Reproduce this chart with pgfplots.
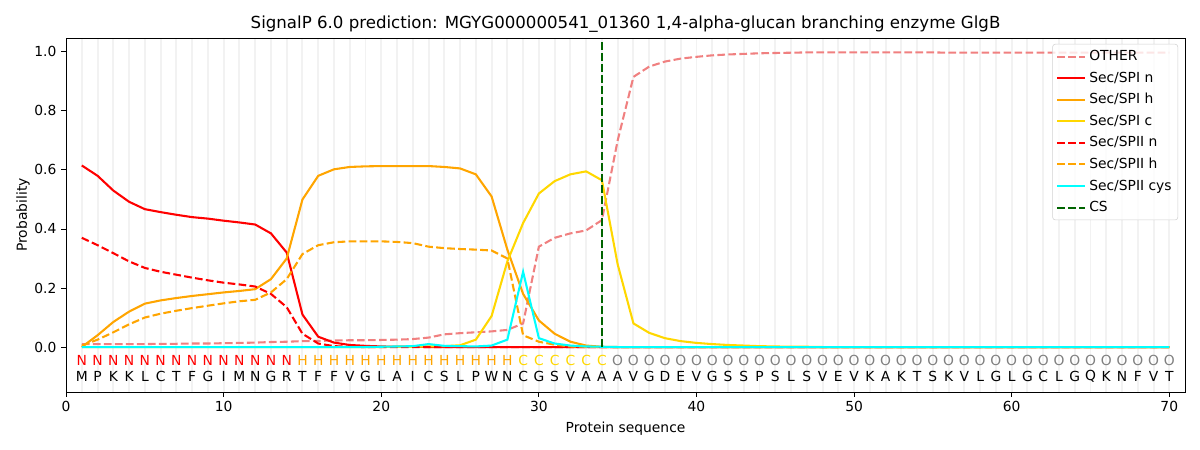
\documentclass[border=0pt]{standalone}
\usepackage{pgfplots}
\pgfplotsset{compat=1.18}
\usepackage{pgfplotstable}
\usepackage{fontspec}
\setmainfont{DejaVu Sans}
\definecolor{cother}{HTML}{F08080}
\definecolor{corange}{HTML}{FFA500}
\definecolor{cgold}{HTML}{FFD700}
\definecolor{ccyan}{HTML}{00FFFF}
\definecolor{cgreen}{HTML}{006400}
\definecolor{cgrid}{HTML}{F2F2F2}
\pgfplotstableread{
pos other spin spih spic spiin spiih cys
1 0.010 0.615 0.000 0.000 0.370 0.005 0.000
2 0.010 0.580 0.040 0.000 0.345 0.025 0.000
3 0.010 0.530 0.085 0.000 0.318 0.050 0.000
4 0.010 0.492 0.120 0.000 0.290 0.077 0.000
5 0.010 0.467 0.147 0.000 0.268 0.100 0.000
6 0.011 0.457 0.158 0.000 0.255 0.113 0.000
7 0.011 0.448 0.166 0.000 0.245 0.123 0.000
8 0.012 0.440 0.173 0.000 0.235 0.132 0.000
9 0.012 0.435 0.179 0.000 0.226 0.140 0.000
10 0.013 0.428 0.185 0.000 0.218 0.148 0.000
11 0.014 0.422 0.190 0.000 0.212 0.155 0.000
12 0.015 0.415 0.196 0.000 0.205 0.160 0.000
13 0.017 0.385 0.230 0.000 0.180 0.185 0.000
14 0.018 0.320 0.300 0.000 0.135 0.230 0.000
15 0.020 0.110 0.500 0.000 0.045 0.315 0.000
16 0.021 0.035 0.580 0.000 0.012 0.345 0.000
17 0.022 0.015 0.602 0.000 0.003 0.355 0.000
18 0.023 0.007 0.610 0.000 0.001 0.358 0.000
19 0.023 0.004 0.612 0.000 0.000 0.358 0.000
20 0.024 0.002 0.613 0.000 0.000 0.358 0.001
21 0.025 0.001 0.613 0.001 0.000 0.356 0.002
22 0.027 0.001 0.613 0.001 0.000 0.352 0.003
23 0.032 0.000 0.613 0.002 0.000 0.340 0.010
24 0.043 0.000 0.610 0.003 0.000 0.335 0.004
25 0.047 0.000 0.605 0.006 0.000 0.332 0.003
26 0.050 0.000 0.585 0.025 0.000 0.330 0.002
27 0.053 0.000 0.510 0.105 0.000 0.327 0.005
28 0.058 0.000 0.330 0.290 0.000 0.300 0.025
29 0.080 0.000 0.180 0.420 0.000 0.040 0.255
30 0.340 0.000 0.090 0.520 0.000 0.018 0.030
31 0.370 0.000 0.045 0.562 0.000 0.008 0.012
32 0.385 0.000 0.018 0.585 0.000 0.002 0.005
33 0.395 0.000 0.005 0.595 0.000 0.001 0.002
34 0.430 0.000 0.001 0.565 0.000 0.000 0.001
35 0.700 0.000 0.000 0.280 0.000 0.000 0.000
36 0.915 0.000 0.000 0.080 0.000 0.000 0.000
37 0.950 0.000 0.000 0.048 0.000 0.000 0.000
38 0.967 0.000 0.000 0.030 0.000 0.000 0.000
39 0.977 0.000 0.000 0.020 0.000 0.000 0.000
40 0.983 0.000 0.000 0.014 0.000 0.000 0.000
41 0.988 0.000 0.000 0.010 0.000 0.000 0.000
42 0.991 0.000 0.000 0.007 0.000 0.000 0.000
43 0.993 0.000 0.000 0.005 0.000 0.000 0.000
44 0.995 0.000 0.000 0.003 0.000 0.000 0.000
45 0.996 0.000 0.000 0.002 0.000 0.000 0.000
46 0.997 0.000 0.000 0.001 0.000 0.000 0.000
47 0.998 0.000 0.000 0.001 0.000 0.000 0.000
48 0.998 0.000 0.000 0.000 0.000 0.000 0.000
49 0.998 0.000 0.000 0.000 0.000 0.000 0.000
50 0.998 0.000 0.000 0.000 0.000 0.000 0.000
51 0.998 0.000 0.000 0.000 0.000 0.000 0.000
52 0.998 0.000 0.000 0.000 0.000 0.000 0.000
53 0.998 0.000 0.000 0.000 0.000 0.000 0.000
54 0.998 0.000 0.000 0.000 0.000 0.000 0.000
55 0.998 0.000 0.000 0.000 0.000 0.000 0.000
56 0.997 0.000 0.000 0.000 0.000 0.000 0.000
57 0.997 0.000 0.000 0.000 0.000 0.000 0.000
58 0.997 0.000 0.000 0.000 0.000 0.000 0.000
59 0.997 0.000 0.000 0.000 0.000 0.000 0.000
60 0.997 0.000 0.000 0.000 0.000 0.000 0.000
61 0.997 0.000 0.000 0.000 0.000 0.000 0.000
62 0.997 0.000 0.000 0.000 0.000 0.000 0.000
63 0.997 0.000 0.000 0.000 0.000 0.000 0.000
64 0.997 0.000 0.000 0.000 0.000 0.000 0.000
65 0.997 0.000 0.000 0.000 0.000 0.000 0.000
66 0.997 0.000 0.000 0.000 0.000 0.000 0.000
67 0.997 0.000 0.000 0.000 0.000 0.000 0.000
68 0.997 0.000 0.000 0.000 0.000 0.000 0.000
69 0.997 0.000 0.000 0.000 0.000 0.000 0.000
70 0.997 0.000 0.000 0.000 0.000 0.000 0.000
}\datatable
\begin{document}
\begin{tikzpicture}
\begin{axis}[
  scale only axis,
  width=808pt, height=255.6pt,
  xmin=0, xmax=71, ymin=-0.152, ymax=1.047,
  clip=false,
  font=\fontsize{10}{12}\selectfont,
  /pgf/number format/assume math mode=true,
  xtick={0,10,...,70},
  ytick={0,0.2,...,1.0},
  yticklabel style={/pgf/number format/.cd, fixed, fixed zerofill, precision=1},
  tick align=outside,
  major tick length=3.5pt,
  tick style={black, line width=0.6pt},
  xtick pos=bottom, ytick pos=left,
  extra x ticks={1,2,...,70},
  extra x tick labels={},
  extra x tick style={grid=major, major grid style={cgrid, line width=1.4pt}, major tick length=0pt},
  axis line style={line width=0.6pt},
  title={SignalP 6.0 prediction: MGYG000000541\_01360 1,4-alpha-glucan branching enzyme GlgB},
  title style={font=\fontsize{12}{14}\selectfont, yshift=-5.3pt},
  xlabel={Protein sequence}, ylabel={Probability},
  xlabel style={yshift=3.6pt},
  ylabel style={yshift=-3.6pt},
  legend cell align=left,
  legend style={at={(1,1)}, anchor=north east, xshift=-5pt, yshift=-4.3pt,
    draw=gray!35, rounded corners=2pt, fill=white, fill opacity=0.8, text opacity=1,
    font=\fontsize{10}{12}\selectfont, row sep=2.6pt, inner sep=2.5pt},
  legend image code/.code={\draw[#1] (0cm,0cm) -- (0.72cm,0cm);},
  every axis plot/.append style={line width=1.5pt},
  nodes near coords style={anchor=center, font=\fontsize{10}{12}\selectfont},
]
\addplot[cother, dash pattern=on 5.55pt off 2.4pt] table[x=pos,y=other] {\datatable};
\addlegendentry{OTHER}
\addplot[red] table[x=pos,y=spin] {\datatable};
\addlegendentry{Sec/SPI n}
\addplot[corange] table[x=pos,y=spih] {\datatable};
\addlegendentry{Sec/SPI h}
\addplot[cgold] table[x=pos,y=spic] {\datatable};
\addlegendentry{Sec/SPI c}
\addplot[red, dash pattern=on 5.55pt off 2.4pt] table[x=pos,y=spiin] {\datatable};
\addlegendentry{Sec/SPII n}
\addplot[corange, dash pattern=on 5.55pt off 2.4pt] table[x=pos,y=spiih] {\datatable};
\addlegendentry{Sec/SPII h}
\addplot[ccyan] table[x=pos,y=cys] {\datatable};
\addlegendentry{Sec/SPII cys}
\addplot[cgreen, dash pattern=on 5.55pt off 2.4pt] coordinates {(34,0) (34,1.047)};
\addlegendentry{CS}
% region labels
\addplot[forget plot, draw=none, mark=none, nodes near coords, point meta=explicit symbolic,
  nodes near coords style={text=red}] coordinates {
(1,-0.047)[N] (2,-0.047)[N] (3,-0.047)[N] (4,-0.047)[N] (5,-0.047)[N] (6,-0.047)[N] (7,-0.047)[N]
(8,-0.047)[N] (9,-0.047)[N] (10,-0.047)[N] (11,-0.047)[N] (12,-0.047)[N] (13,-0.047)[N] (14,-0.047)[N]};
\addplot[forget plot, draw=none, mark=none, nodes near coords, point meta=explicit symbolic,
  nodes near coords style={text=corange}] coordinates {
(15,-0.047)[H] (16,-0.047)[H] (17,-0.047)[H] (18,-0.047)[H] (19,-0.047)[H] (20,-0.047)[H] (21,-0.047)[H]
(22,-0.047)[H] (23,-0.047)[H] (24,-0.047)[H] (25,-0.047)[H] (26,-0.047)[H] (27,-0.047)[H] (28,-0.047)[H]};
\addplot[forget plot, draw=none, mark=none, nodes near coords, point meta=explicit symbolic,
  nodes near coords style={text=cgold}] coordinates {
(29,-0.047)[C] (30,-0.047)[C] (31,-0.047)[C] (32,-0.047)[C] (33,-0.047)[C] (34,-0.047)[C]};
\addplot[forget plot, draw=none, mark=none, nodes near coords, point meta=explicit symbolic,
  nodes near coords style={text=gray}] coordinates {
(35,-0.047)[O] (36,-0.047)[O] (37,-0.047)[O] (38,-0.047)[O] (39,-0.047)[O] (40,-0.047)[O]
(41,-0.047)[O] (42,-0.047)[O] (43,-0.047)[O] (44,-0.047)[O] (45,-0.047)[O] (46,-0.047)[O]
(47,-0.047)[O] (48,-0.047)[O] (49,-0.047)[O] (50,-0.047)[O] (51,-0.047)[O] (52,-0.047)[O]
(53,-0.047)[O] (54,-0.047)[O] (55,-0.047)[O] (56,-0.047)[O] (57,-0.047)[O] (58,-0.047)[O]
(59,-0.047)[O] (60,-0.047)[O] (61,-0.047)[O] (62,-0.047)[O] (63,-0.047)[O] (64,-0.047)[O]
(65,-0.047)[O] (66,-0.047)[O] (67,-0.047)[O] (68,-0.047)[O] (69,-0.047)[O] (70,-0.047)[O]};
% amino acids
\addplot[forget plot, draw=none, mark=none, nodes near coords, point meta=explicit symbolic,
  nodes near coords style={text=black}] coordinates {
(1,-0.1)[M] (2,-0.1)[P] (3,-0.1)[K] (4,-0.1)[K] (5,-0.1)[L] (6,-0.1)[C] (7,-0.1)[T] (8,-0.1)[F] (9,-0.1)[G] (10,-0.1)[I]
(11,-0.1)[M] (12,-0.1)[N] (13,-0.1)[G] (14,-0.1)[R] (15,-0.1)[T] (16,-0.1)[F] (17,-0.1)[F] (18,-0.1)[V] (19,-0.1)[G] (20,-0.1)[L]
(21,-0.1)[A] (22,-0.1)[I] (23,-0.1)[C] (24,-0.1)[S] (25,-0.1)[L] (26,-0.1)[P] (27,-0.1)[W] (28,-0.1)[N] (29,-0.1)[C] (30,-0.1)[G]
(31,-0.1)[S] (32,-0.1)[V] (33,-0.1)[A] (34,-0.1)[A] (35,-0.1)[A] (36,-0.1)[V] (37,-0.1)[G] (38,-0.1)[D] (39,-0.1)[E] (40,-0.1)[V]
(41,-0.1)[G] (42,-0.1)[S] (43,-0.1)[S] (44,-0.1)[P] (45,-0.1)[S] (46,-0.1)[L] (47,-0.1)[S] (48,-0.1)[V] (49,-0.1)[E] (50,-0.1)[V]
(51,-0.1)[K] (52,-0.1)[A] (53,-0.1)[K] (54,-0.1)[T] (55,-0.1)[S] (56,-0.1)[K] (57,-0.1)[V] (58,-0.1)[L] (59,-0.1)[G] (60,-0.1)[L]
(61,-0.1)[G] (62,-0.1)[C] (63,-0.1)[L] (64,-0.1)[G] (65,-0.1)[Q] (66,-0.1)[K] (67,-0.1)[N] (68,-0.1)[F] (69,-0.1)[V] (70,-0.1)[T]};
\draw[line width=0.6pt] (rel axis cs:0,0) rectangle (rel axis cs:1,1);
\end{axis}
\path ([shift={(-47.7pt,-41.9pt)}]current axis.south west) rectangle ([shift={(10.8pt,27.4pt)}]current axis.north east);
\end{tikzpicture}
\end{document}
